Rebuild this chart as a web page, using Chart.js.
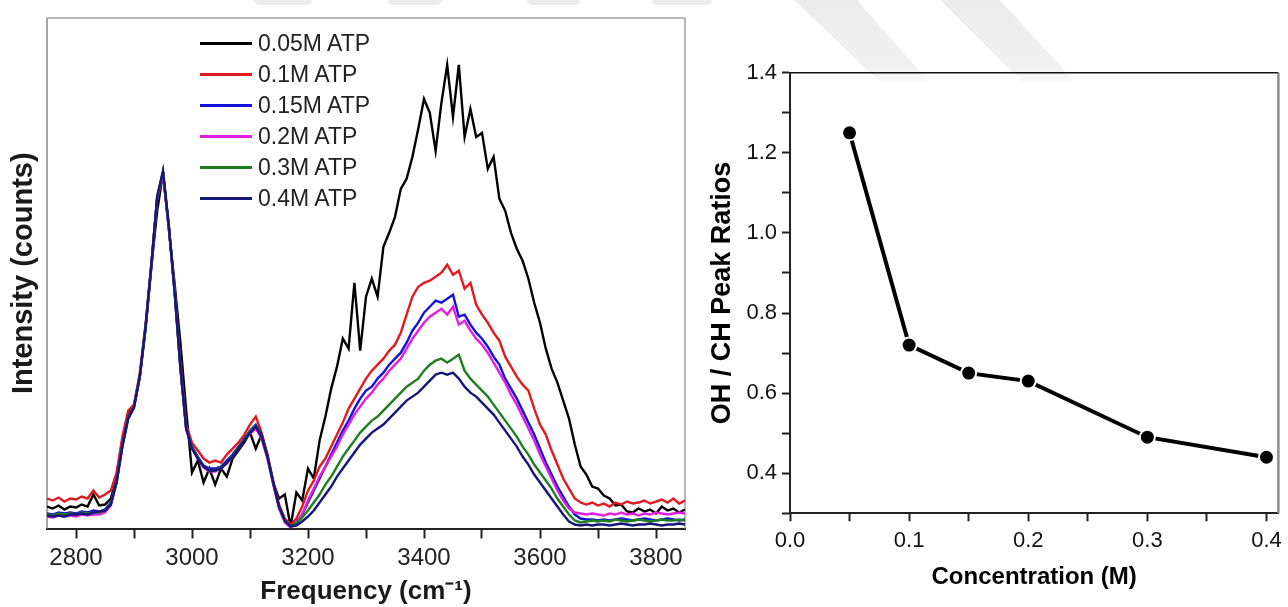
<!DOCTYPE html>
<html>
<head>
<meta charset="utf-8">
<title>Raman spectra and OH/CH peak ratios</title>
<script src="https://cdn.jsdelivr.net/npm/chart.js@4.4.1/dist/chart.umd.min.js"></script>
<style>
  html, body { margin: 0; padding: 0; background: #fff; }
  body { width: 1288px; height: 607px; overflow: hidden; position: relative; font-family: "Liberation Sans", Arial, sans-serif; }
  #watermark { position: absolute; left: 0; top: 0; }
  #spectraChart { position: absolute; left: 0; top: 0; }
  #ratioChart { position: absolute; left: 700px; top: 0; }
  #legend { position: absolute; left: 200px; top: 28px; }
  #legend .row { display: flex; align-items: center; height: 31px; }
  #legend .swatch { width: 52px; height: 3px; margin-right: 6px; }
  #legend .label { font-size: 23px; color: #222; line-height: 1; }
</style>
</head>
<body>
<svg id="watermark" width="1288" height="607">
  <defs>
    <linearGradient id="fade" x1="0" y1="0" x2="0" y2="1">
      <stop offset="0" stop-color="#ececec"/>
      <stop offset="0.8" stop-color="#f0f0f0"/>
      <stop offset="1" stop-color="#f8f8f8"/>
    </linearGradient>
  </defs>
  <rect x="254" y="-6" width="58" height="11" rx="5" fill="#ececec"/>
  <rect x="388" y="-6" width="54" height="11" rx="5" fill="#ececec"/>
  <rect x="527" y="-6" width="53" height="11" rx="5" fill="#ececec"/>
  <rect x="652" y="-6" width="60" height="11" rx="5" fill="#ececec"/>
  <polygon points="794,0 857,0 929,82 880,82" fill="url(#fade)"/>
  <polygon points="940,0 1000,0 1075,82 1022,82" fill="url(#fade)"/>
</svg>
<canvas id="spectraChart" width="700" height="607"></canvas>
<canvas id="ratioChart" width="588" height="620"></canvas>
<div id="legend"></div>
<script>
// Left panel: Raman spectra (intensity in arbitrary counts)
const freq = [
  2750, 2760, 2770, 2780, 2790, 2800, 2810, 2820, 2830, 2840,
  2850, 2860, 2870, 2880, 2890, 2900, 2910, 2920, 2930, 2940,
  2950, 2960, 2970, 2980, 2990, 3000, 3010, 3020, 3030, 3040,
  3050, 3060, 3070, 3080, 3090, 3100, 3110, 3120, 3130, 3140,
  3150, 3160, 3170, 3180, 3190, 3200, 3210, 3220, 3230, 3240,
  3250, 3260, 3270, 3280, 3290, 3300, 3310, 3320, 3330, 3340,
  3350, 3360, 3370, 3380, 3390, 3400, 3410, 3420, 3430, 3440,
  3450, 3460, 3470, 3480, 3490, 3500, 3510, 3520, 3530, 3540,
  3550, 3560, 3570, 3580, 3590, 3600, 3610, 3620, 3630, 3640,
  3650, 3660, 3670, 3680, 3690, 3700, 3710, 3720, 3730, 3740,
  3750, 3760, 3770, 3780, 3790, 3800, 3810, 3820, 3830, 3840,
  3850
];

const atp005 = [
  22, 20, 23, 19, 22, 21, 24, 22, 34, 23,
  24, 30, 50, 88, 114, 124, 152, 200, 262, 318,
  356, 300, 245, 186, 118, 56, 68, 46, 60, 44,
  60, 52, 70, 78, 86, 96, 80, 94, 74, 46,
  30, 34, 2, 36, 28, 60, 50, 88, 112, 140,
  162, 190, 180, 246, 178, 232, 250, 232, 282, 296,
  312, 340, 350, 372, 400, 430, 416, 378, 426, 464,
  412, 464, 392, 420, 392, 396, 360, 372, 330, 318,
  296, 280, 268, 250, 226, 206, 180, 160, 146, 128,
  110, 84, 62, 54, 42, 40, 33, 30, 23, 24,
  17, 16, 20, 17, 19, 15, 22, 18, 20, 16,
  19
];
const atp01 = [
  30, 28, 31, 27, 30, 29, 32, 30, 38, 31,
  34, 38, 56, 92, 118, 124, 156, 204, 266, 330,
  354, 302, 240, 166, 104, 86, 78, 70, 66, 68,
  66, 74, 80, 86, 94, 104, 112, 96, 74, 48,
  24, 10, 4, 10, 22, 38, 48, 62, 70, 82,
  94, 106, 120, 130, 140, 150, 158, 164, 170, 178,
  184, 196, 214, 232, 242, 246, 248, 252, 256, 264,
  254, 258, 240, 246, 224, 214, 206, 196, 188, 172,
  162, 152, 144, 138, 120, 104, 94, 78, 64, 50,
  40, 30, 26, 24, 26, 23, 25, 22, 26, 24,
  27, 25, 26, 28, 25, 27, 29, 26, 30, 25,
  28
];
const atp015 = [
  15, 14, 16, 15, 16, 15, 17, 16, 18, 17,
  19, 26, 48, 84, 112, 122, 152, 202, 264, 330,
  356, 302, 238, 162, 100, 82, 72, 63, 60, 60,
  62, 68, 74, 82, 90, 98, 104, 94, 72, 46,
  22, 8, 2, 6, 14, 26, 38, 50, 62, 74,
  86, 98, 108, 120, 130, 138, 142, 150, 156, 164,
  170, 176, 186, 198, 206, 216, 222, 228, 226, 230,
  234, 212, 214, 204, 196, 190, 182, 172, 164, 150,
  140, 130, 118, 106, 94, 80, 66, 54, 42, 32,
  22, 14, 10, 9, 9, 8, 9, 8, 9, 10,
  9, 8, 9, 10, 9, 8, 9, 10, 9, 8,
  9
];
const atp02 = [
  12, 11, 13, 12, 13, 12, 14, 13, 14, 14,
  16, 23, 46, 82, 110, 121, 152, 202, 264, 332,
  356, 302, 236, 160, 99, 80, 70, 61, 57, 57,
  60, 65, 72, 80, 88, 95, 100, 90, 70, 44,
  20, 6, 1, 5, 14, 28, 40, 52, 62, 72,
  82, 94, 104, 114, 122, 130, 136, 144, 150, 158,
  164, 170, 180, 190, 198, 206, 212, 216, 220, 214,
  222, 204, 208, 198, 190, 184, 176, 166, 156, 146,
  134, 124, 112, 100, 88, 74, 62, 50, 38, 28,
  20, 16, 15, 14, 15, 14, 13, 15, 14, 16,
  14, 15, 13, 15, 14, 16, 15, 14, 15, 16,
  15
];
const atp03 = [
  14, 13, 15, 14, 15, 14, 16, 15, 16, 16,
  18, 25, 47, 83, 111, 122, 153, 203, 265, 332,
  357, 303, 237, 161, 100, 81, 71, 62, 58, 58,
  61, 66, 73, 81, 89, 97, 103, 93, 72, 46,
  22, 8, 2, 5, 11, 18, 26, 34, 44, 52,
  62, 72, 80, 88, 96, 102, 108, 112, 118, 124,
  130, 136, 142, 146, 150, 158, 164, 168, 170, 166,
  170, 174, 158, 150, 144, 138, 132, 124, 116, 108,
  100, 92, 82, 74, 64, 56, 48, 40, 30, 22,
  14, 8, 6, 7, 8, 7, 8, 7, 9, 8,
  7, 8, 9, 8, 7, 8, 9, 8, 8, 9,
  8
];
const atp04 = [
  13, 12, 13, 12, 14, 14, 15, 14, 16, 17,
  18, 24, 46, 82, 110, 121, 152, 202, 264, 333,
  358, 304, 237, 161, 100, 80, 70, 62, 58, 58,
  60, 66, 72, 80, 88, 96, 102, 92, 72, 46,
  22, 8, 2, 3, 7, 12, 18, 26, 34, 42,
  52, 60, 68, 76, 84, 90, 96, 100, 104, 110,
  116, 122, 128, 132, 136, 142, 148, 154, 156, 154,
  156, 150, 142, 136, 132, 126, 120, 114, 106, 98,
  90, 82, 72, 64, 54, 46, 38, 30, 22, 14,
  7, 4, 3, 4, 3, 4, 4, 3, 4, 5,
  4, 3, 4, 4, 5, 4, 3, 4, 4, 5,
  4
];
const seriesLabels = ["0.05M ATP", "0.1M ATP", "0.15M ATP", "0.2M ATP", "0.3M ATP", "0.4M ATP"];
const seriesColors = ["#000000", "#e3191f", "#1212d8", "#e31ee3", "#1f7f1f", "#16167c"];
const freqTicks = [2800, 2900, 3000, 3100, 3200, 3300, 3400, 3500, 3600, 3700, 3800];

// Right panel: OH / CH peak ratio vs concentration
const concentration = [0.05, 0.1, 0.15, 0.2, 0.3, 0.4];
const peakRatio = [1.25, 0.72, 0.65, 0.63, 0.49, 0.44];
const concTicks = [0, 0.05, 0.1, 0.15, 0.2, 0.25, 0.3, 0.35, 0.4];
const ratioTicks = [0.3, 0.4, 0.5, 0.6, 0.7, 0.8, 0.9, 1.0, 1.1, 1.2, 1.3, 1.4];

const FONT = "'Liberation Sans', Arial, sans-serif";

// Draw plot-area border lines (sides listed in chart options)
const framePlugin = {
  id: "frame",
  beforeDatasetsDraw(chart, args, opts) {
    const { ctx, chartArea: a } = chart;
    ctx.save();
    (opts.sides || []).forEach(s => {
      ctx.strokeStyle = s.color;
      ctx.lineWidth = s.width;
      ctx.beginPath();
      if (s.edge === "top") { ctx.moveTo(a.left, a.top); ctx.lineTo(a.right, a.top); }
      if (s.edge === "right") { ctx.moveTo(a.right, a.top); ctx.lineTo(a.right, a.bottom); }
      if (s.edge === "left") { ctx.moveTo(a.left, a.top); ctx.lineTo(a.left, a.bottom); }
      if (s.edge === "bottom") { ctx.moveTo(a.left, a.bottom); ctx.lineTo(a.right, a.bottom); }
      ctx.stroke();
    });
    ctx.restore();
  }
};

const spectraSets = [atp005, atp01, atp015, atp02, atp03, atp04];

const spectraChart = new Chart(document.getElementById("spectraChart"), {
  type: "line",
  data: {
    datasets: spectraSets.map((vals, i) => ({
      label: seriesLabels[i],
      data: freq.map((f, j) => ({ x: f, y: vals[j] })),
      borderColor: seriesColors[i],
      borderWidth: 2.4,
      pointRadius: 0,
      tension: 0,
      order: spectraSets.length - 1 - i
    }))
  },
  options: {
    responsive: false,
    animation: false,
    layout: { padding: { left: 0, top: 18, right: 15, bottom: 0 } },
    plugins: {
      legend: { display: false },
      tooltip: { enabled: false },
      frame: {
        sides: [
          { edge: "top", color: "#a0a0a0", width: 1.5 },
          { edge: "right", color: "#a0a0a0", width: 1.5 },
          { edge: "left", color: "#8a8a8a", width: 1.5 }
        ]
      }
    },
    scales: {
      x: {
        type: "linear",
        min: 2750,
        max: 3850,
        afterBuildTicks: s => { s.ticks = freqTicks.map(v => ({ value: v })); },
        afterFit: s => { s.height = 78.5; },
        ticks: {
          callback: v => (v % 200 === 0 ? String(v) : ""),
          font: { family: FONT, size: 24 },
          color: "#222",
          padding: 5,
          autoSkip: false,
          maxRotation: 0
        },
        grid: { display: true, drawOnChartArea: false, drawTicks: true, tickLength: 10, tickColor: "#222", tickWidth: 2 },
        border: { display: true, color: "#222", width: 2 },
        title: {
          display: true,
          text: "Frequency (cm\u207B\u00B9)",
          font: { family: FONT, size: 26, weight: "bold" },
          color: "#1a1a1a",
          padding: { top: 0, bottom: 0 }
        }
      },
      y: {
        min: 0,
        max: 511,
        afterFit: s => { s.width = 47; },
        ticks: { display: false },
        grid: { display: false },
        border: { display: false },
        title: {
          display: true,
          text: "Intensity (counts)",
          font: { family: FONT, size: 29, weight: "bold" },
          color: "#1a1a1a",
          padding: { top: 7, bottom: 0 }
        }
      }
    }
  },
  plugins: [framePlugin]
});

// HTML legend built from the datasets
const legendBox = document.getElementById("legend");
spectraChart.data.datasets.forEach(ds => {
  const row = document.createElement("div");
  row.className = "row";
  const sw = document.createElement("span");
  sw.className = "swatch";
  sw.style.background = ds.borderColor;
  const txt = document.createElement("span");
  txt.className = "label";
  txt.textContent = ds.label;
  row.appendChild(sw);
  row.appendChild(txt);
  legendBox.appendChild(row);
});

new Chart(document.getElementById("ratioChart"), {
  type: "line",
  data: {
    datasets: [{
      label: "OH / CH Peak Ratios",
      data: concentration.map((c, i) => ({ x: c, y: peakRatio[i] })),
      borderColor: "#000",
      borderWidth: 4,
      pointRadius: 7.5,
      pointBorderWidth: 2,
      pointBorderColor: "#fff",
      pointBackgroundColor: "#000",
      tension: 0,
      clip: false
    }]
  },
  options: {
    responsive: false,
    animation: false,
    layout: { padding: { left: 0, top: 72.7, right: 6.3, bottom: 0 } },
    plugins: {
      legend: { display: false },
      tooltip: { enabled: false },
      frame: {
        sides: [
          { edge: "top", color: "#111", width: 1.5 },
          { edge: "right", color: "#8c8c8c", width: 2.5 }
        ]
      }
    },
    scales: {
      x: {
        type: "linear",
        min: 0,
        max: 0.41,
        afterBuildTicks: s => { s.ticks = concTicks.map(v => ({ value: v })); },
        afterFit: s => { s.height = 106.7; },
        ticks: {
          callback: v => (Math.round(v * 100) % 10 === 0 ? v.toFixed(1) : ""),
          font: { family: FONT, size: 22 },
          color: "#111",
          padding: 6,
          autoSkip: false,
          maxRotation: 0
        },
        grid: { display: true, drawOnChartArea: false, drawTicks: true, tickLength: 8, tickColor: "#222", tickWidth: 2 },
        border: { display: true, color: "#222", width: 2 },
        title: {
          display: true,
          text: "Concentration (M)",
          font: { family: FONT, size: 24, weight: "bold" },
          color: "#000",
          padding: { top: 0, bottom: 28 }
        }
      },
      y: {
        min: 0.3,
        max: 1.4,
        afterBuildTicks: s => { s.ticks = ratioTicks.map(v => ({ value: v })); },
        afterFit: s => { s.width = 90; },
        ticks: {
          callback: v => (Math.round(v * 10) % 2 === 0 ? v.toFixed(1) : ""),
          font: { family: FONT, size: 22 },
          color: "#111",
          padding: 5
        },
        grid: { display: true, drawOnChartArea: false, drawTicks: true, tickLength: 8, tickColor: "#222", tickWidth: 2 },
        border: { display: true, color: "#222", width: 2 },
        title: {
          display: true,
          text: "OH / CH Peak Ratios",
          font: { family: FONT, size: 27, weight: "bold" },
          color: "#000",
          padding: { top: 6, bottom: 0 }
        }
      }
    }
  },
  plugins: [framePlugin]
});
</script>
</body>
</html>
